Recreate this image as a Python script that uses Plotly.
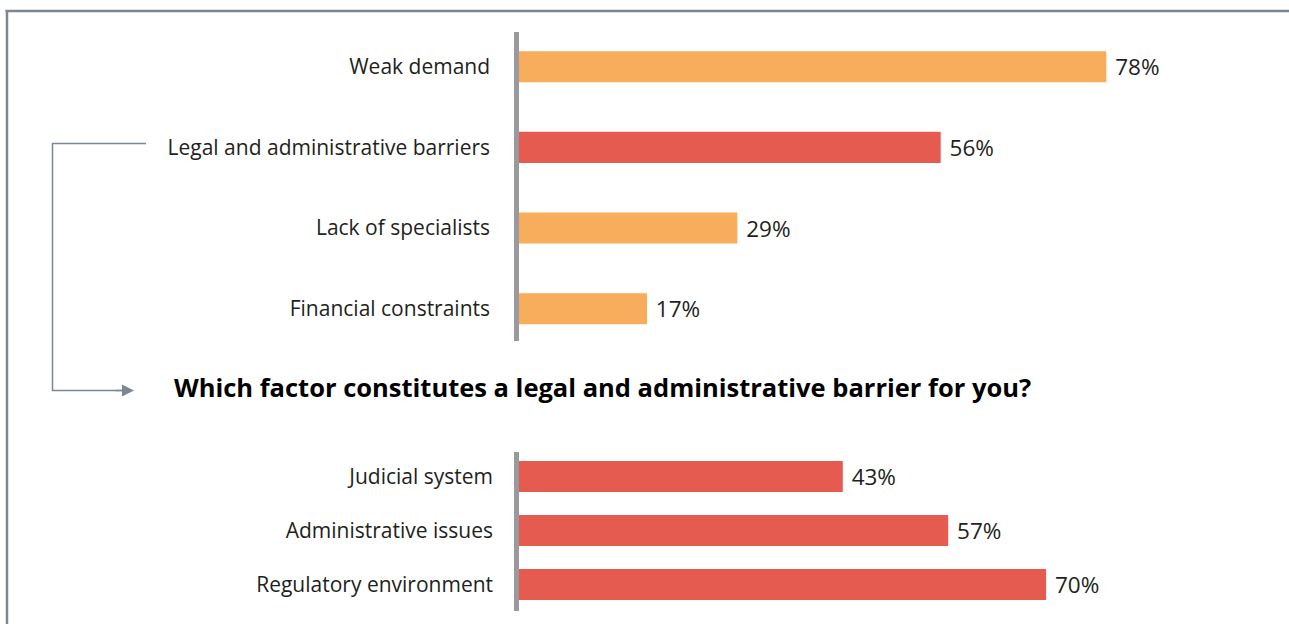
import plotly.graph_objects as go

# Survey results: main obstacles, then a breakdown of the legal/administrative one
obstacle_labels = ["Weak demand", "Legal and administrative barriers",
                   "Lack of specialists", "Financial constraints"]
obstacle_values = [78, 56, 29, 17]
obstacle_colors = ["#F8AD5D", "#E55B50", "#F8AD5D", "#F8AD5D"]

barrier_labels = ["Judicial system", "Administrative issues", "Regulatory environment"]
barrier_values = [43, 57, 70]
barrier_colors = ["#E55B50", "#E55B50", "#E55B50"]

question = "Which factor constitutes a legal and administrative barrier for you?"

W, H = 1289, 624
FONT = "Open Sans"
TEXT = "#231F20"
FRAME = "#7B8894"
AXIS = "#9A9A9E"


def fx(px):
    return px / W


def fy(py):
    return 1 - py / H


fig = go.Figure()

fig.add_trace(go.Bar(
    x=obstacle_values, y=obstacle_labels, orientation="h",
    marker=dict(color=obstacle_colors, line=dict(width=0)),
    width=0.385,
    text=[f"\u00a0{v}%" for v in obstacle_values], textposition="outside",
    textfont=dict(family=FONT, size=22.5, color=TEXT),
    cliponaxis=False, hoverinfo="skip",
    xaxis="x", yaxis="y",
))

fig.add_trace(go.Bar(
    x=barrier_values, y=barrier_labels, orientation="h",
    marker=dict(color=barrier_colors, line=dict(width=0)),
    width=0.574,
    text=[f"\u00a0{v}%" for v in barrier_values], textposition="outside",
    textfont=dict(family=FONT, size=22.5, color=TEXT),
    cliponaxis=False, hoverinfo="skip",
    xaxis="x2", yaxis="y2",
))

x_dom = [fx(519), fx(519 + 753)]
common_x = dict(range=[0, 100], showgrid=False, zeroline=False,
                showticklabels=False, showline=False, fixedrange=True)
common_y = dict(type="category", showgrid=False, zeroline=False,
                showline=True, linecolor=AXIS, linewidth=4.5, ticks="",
                tickfont=dict(family=FONT, size=21, color=TEXT),
                fixedrange=True)

shapes = [
    # frame: top and left rules
    dict(type="line", xref="paper", yref="paper", x0=fx(5.5), x1=fx(W + 5),
         y0=fy(11), y1=fy(11), line=dict(color=FRAME, width=2.5)),
    dict(type="line", xref="paper", yref="paper", x0=fx(7), x1=fx(7),
         y0=fy(10), y1=fy(H + 5), line=dict(color=FRAME, width=2.5)),
    # connector from the barrier row down to the follow-up question
    dict(type="path", xref="paper", yref="paper",
         path=(f"M {fx(146)} {fy(143.5)} L {fx(52.5)} {fy(143.5)} "
               f"L {fx(52.5)} {fy(390.5)} L {fx(124)} {fy(390.5)}"),
         line=dict(color=FRAME, width=1.5)),
]

annotations = [
    dict(text=f"<b>{question}</b>", xref="paper", yref="paper",
         x=fx(602), y=fy(387), xanchor="center", yanchor="middle",
         showarrow=False, font=dict(family=FONT, size=25.5, color="#000000")),
    dict(text="", xref="paper", yref="paper", x=fx(134), y=fy(390.5),
         ax=-20, ay=0, showarrow=True, arrowhead=2, arrowsize=1.6,
         arrowwidth=1.5, arrowcolor=FRAME),
]

fig.update_layout(
    width=W, height=H,
    margin=dict(l=0, r=0, t=0, b=0),
    paper_bgcolor="white", plot_bgcolor="white",
    showlegend=False,
    xaxis=dict(domain=x_dom, anchor="y", **common_x),
    yaxis=dict(domain=[fy(341), fy(32)], anchor="x",
               range=[3.40, -0.43], ticklabelstandoff=20, **common_y),
    xaxis2=dict(domain=x_dom, anchor="y2", **common_x),
    yaxis2=dict(domain=[fy(611), fy(452)], anchor="x2",
                range=[2.49, -0.454], ticklabelstandoff=17, **common_y),
    shapes=shapes,
    annotations=annotations,
)

fig.write_html("out.html")
